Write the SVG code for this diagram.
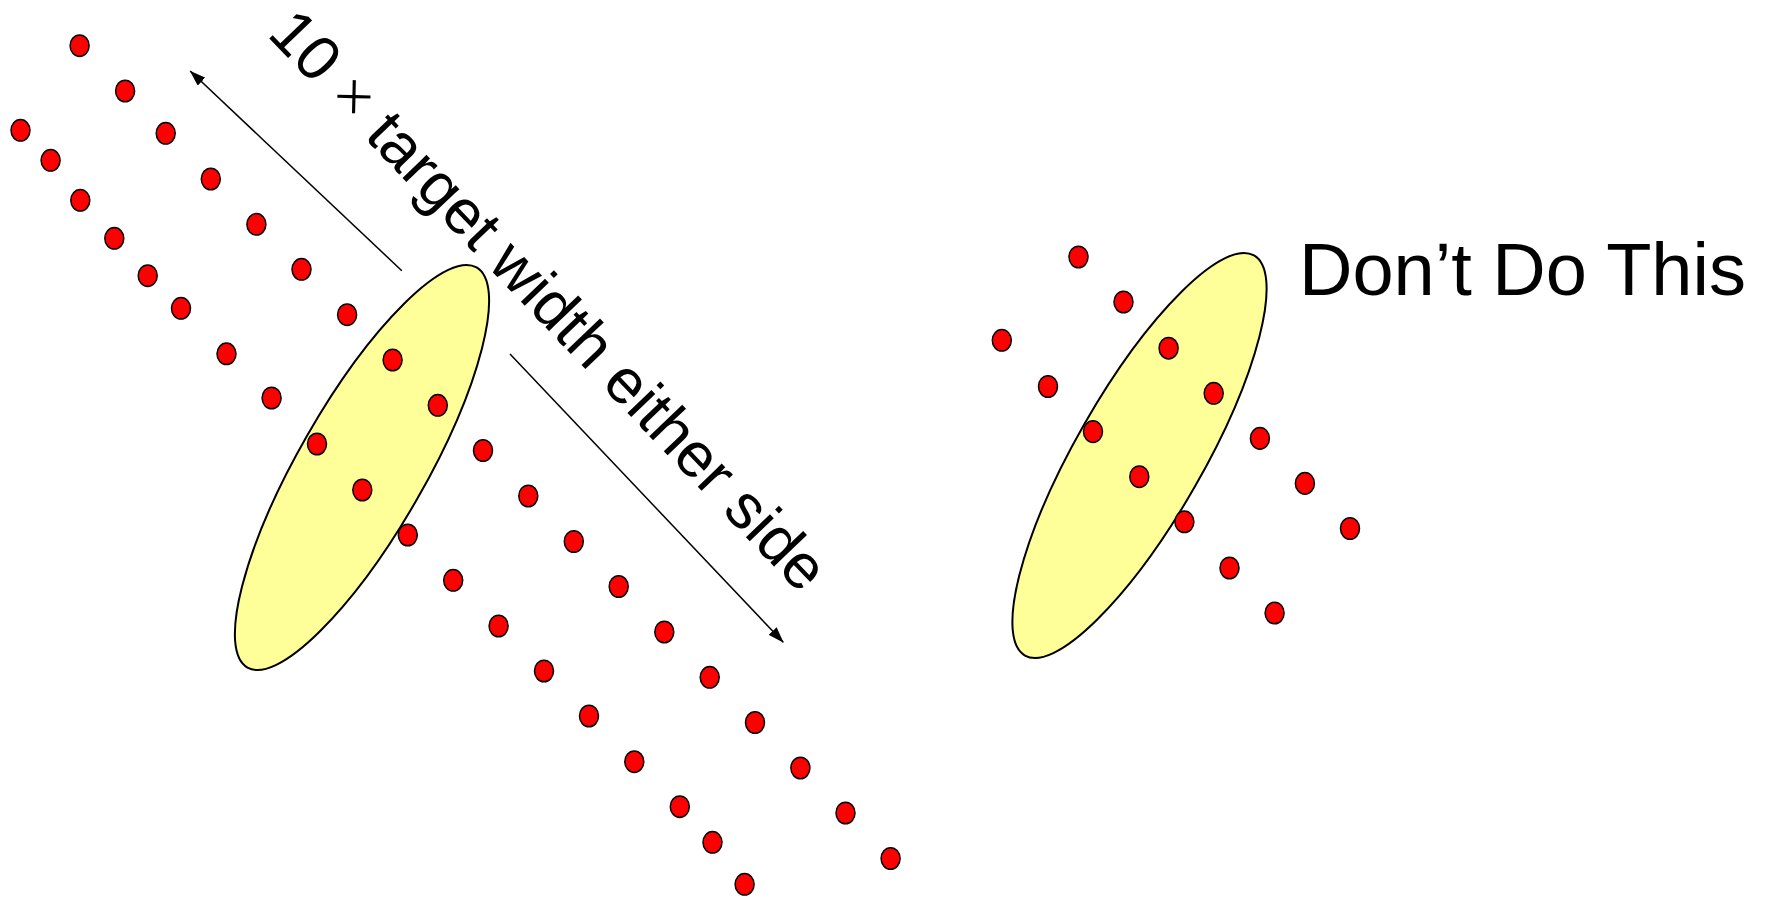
<svg xmlns="http://www.w3.org/2000/svg" width="1767" height="900" viewBox="0 0 1767 900">
<style>
  .dot { fill: #FF0000; stroke: #000000; stroke-width: 1.5; }
  .blob { fill: #FFFF99; stroke: #000000; stroke-width: 2; }
  .conn { stroke: #000000; stroke-width: 1.5; fill: none; }
  .lbl { font-family: "Liberation Sans", Arial, sans-serif; fill: #000000; }
</style>
<defs>
  <marker id="arrow" markerUnits="userSpaceOnUse" viewBox="0 0 16 11" refX="15.5" refY="5.5" markerWidth="16" markerHeight="11" orient="auto">
    <path d="M0,0 L16,5.5 L0,11 z" fill="#000000"/>
  </marker>
  <ellipse id="d" cx="0" cy="0" rx="9.5" ry="10.8" class="dot"/>
</defs>
<rect x="0" y="0" width="1767" height="900" fill="#FFFFFF"/>

<g id="target-left">
  <ellipse class="blob" cx="362" cy="467.5" rx="230.5" ry="63.5" transform="rotate(-60.2 362 467.5)"/>
</g>
<g id="target-right">
  <ellipse class="blob" cx="1139.5" cy="455.5" rx="230.5" ry="63.5" transform="rotate(-60.2 1139.5 455.5)"/>
</g>

<g id="dots-left-row-a">
  <use href="#d" x="79.6" y="45.7"/>
  <use href="#d" x="125.1" y="91"/>
  <use href="#d" x="165.7" y="133.3"/>
  <use href="#d" x="210.8" y="179"/>
  <use href="#d" x="256.4" y="224.3"/>
  <use href="#d" x="301.5" y="269.3"/>
  <use href="#d" x="347.1" y="314.7"/>
  <use href="#d" x="392.6" y="360"/>
  <use href="#d" x="437.8" y="405.3"/>
  <use href="#d" x="483" y="450.5"/>
  <use href="#d" x="528.3" y="496"/>
  <use href="#d" x="573.8" y="541.5"/>
  <use href="#d" x="618.7" y="586.5"/>
  <use href="#d" x="664.3" y="632"/>
  <use href="#d" x="709.7" y="677.3"/>
  <use href="#d" x="755" y="722.5"/>
  <use href="#d" x="800.4" y="768"/>
  <use href="#d" x="845.5" y="813"/>
  <use href="#d" x="890.6" y="858.5"/>
</g>
<g id="dots-left-row-b">
  <use href="#d" x="20.5" y="130.3"/>
  <use href="#d" x="50.6" y="160.3"/>
  <use href="#d" x="80.3" y="200.3"/>
  <use href="#d" x="114.3" y="238.3"/>
  <use href="#d" x="147.7" y="275.7"/>
  <use href="#d" x="181" y="308.3"/>
  <use href="#d" x="226.5" y="353.8"/>
  <use href="#d" x="271.6" y="398"/>
  <use href="#d" x="317" y="444"/>
  <use href="#d" x="362.3" y="490"/>
  <use href="#d" x="407.8" y="535"/>
  <use href="#d" x="453.2" y="580.3"/>
  <use href="#d" x="498.6" y="626"/>
  <use href="#d" x="544" y="671"/>
  <use href="#d" x="589" y="716"/>
  <use href="#d" x="634.3" y="761.7"/>
  <use href="#d" x="679.8" y="806.7"/>
  <use href="#d" x="712.5" y="842.3"/>
  <use href="#d" x="744.6" y="884.3"/>
</g>
<g id="dots-right-row-a">
  <use href="#d" x="1078.5" y="257"/>
  <use href="#d" x="1123.5" y="302"/>
  <use href="#d" x="1168.6" y="348.2"/>
  <use href="#d" x="1213.7" y="393.3"/>
  <use href="#d" x="1259.9" y="438.4"/>
  <use href="#d" x="1304.9" y="483.4"/>
  <use href="#d" x="1350" y="528.5"/>
</g>
<g id="dots-right-row-b">
  <use href="#d" x="1001.8" y="340.3"/>
  <use href="#d" x="1048" y="386.5"/>
  <use href="#d" x="1093" y="431.6"/>
  <use href="#d" x="1139.3" y="476.7"/>
  <use href="#d" x="1184.4" y="521.8"/>
  <use href="#d" x="1229.5" y="568"/>
  <use href="#d" x="1274.6" y="613"/>
</g>

<g id="connectors">
  <line class="conn" x1="401.8" y1="270.7" x2="190.2" y2="71" marker-end="url(#arrow)"/>
  <line class="conn" x1="510" y1="354" x2="783.3" y2="642.3" marker-end="url(#arrow)"/>
</g>

<g id="label-width">
  <text class="lbl" font-size="63" transform="translate(266 35) rotate(46.3)">10 <tspan font-family="Liberation Serif, serif">×</tspan> target width either side</text>
</g>
<g id="label-dont">
  <text class="lbl" x="1299" y="295" font-size="74">Don’t Do This</text>
</g>
</svg>
